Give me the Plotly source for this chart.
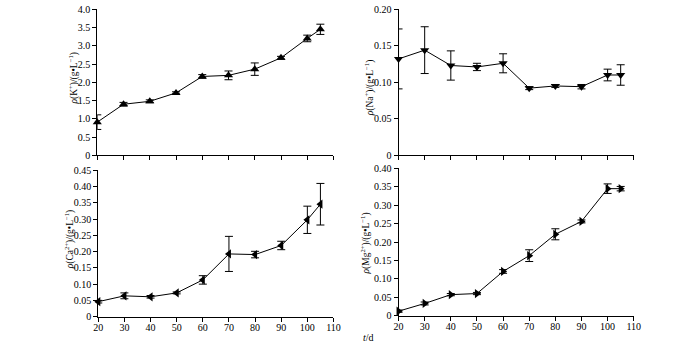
import plotly.graph_objects as go

days = [20, 30, 40, 50, 60, 70, 80, 90, 100, 105]

k_vals = [0.91, 1.40, 1.48, 1.71, 2.16, 2.19, 2.36, 2.67, 3.20, 3.45]
k_err = [0.20, 0.05, 0.04, 0.03, 0.05, 0.12, 0.17, 0.04, 0.09, 0.14]

na_vals = [0.132, 0.144, 0.123, 0.121, 0.126, 0.092, 0.095, 0.094, 0.110, 0.110]
na_err = [0.041, 0.032, 0.020, 0.005, 0.013, 0.002, 0.002, 0.003, 0.008, 0.014]

ca_vals = [0.046, 0.064, 0.061, 0.073, 0.113, 0.193, 0.191, 0.219, 0.298, 0.346]
ca_err = [0.004, 0.009, 0.004, 0.003, 0.013, 0.054, 0.010, 0.013, 0.042, 0.064]

mg_vals = [0.012, 0.033, 0.057, 0.060, 0.120, 0.163, 0.221, 0.256, 0.345, 0.345]
mg_err = [0.003, 0.004, 0.003, 0.003, 0.005, 0.016, 0.015, 0.004, 0.013, 0.006]

x_ticks = [20, 30, 40, 50, 60, 70, 80, 90, 100, 110]

k_ticks = [0, 0.5, 1.0, 1.5, 2.0, 2.5, 3.0, 3.5, 4.0]
na_ticks = [0, 0.05, 0.10, 0.15, 0.20]
ca_ticks = [0, 0.05, 0.10, 0.15, 0.20, 0.25, 0.30, 0.35, 0.40, 0.45]
mg_ticks = [0, 0.05, 0.10, 0.15, 0.20, 0.25, 0.30, 0.35, 0.40]

FONT = "Liberation Serif, Times New Roman, serif"
W, H = 700, 346


def px_x(p):
    # picture pixel -> paper fraction (calibrated)
    return ((p - 4.8) / 0.982) / W


def px_y(p):
    return 1 - ((p - 5.8) / 0.964) / H


panels = [
    dict(y=k_vals, e=k_err, sym="triangle-up", ticks=k_ticks, fmt="{:.1f}", rng=[0, 4.0],
         xd=[px_x(97), px_x(333)], yd=[px_y(155), px_y(9)], xlab=False,
         title="<i>ρ</i>(K<sup>+</sup>)/(g•L<sup>−1</sup>)", tx=73, ty=78),
    dict(y=na_vals, e=na_err, sym="triangle-down", ticks=na_ticks, fmt="{:.2f}", rng=[0, 0.20],
         xd=[px_x(398), px_x(633)], yd=[px_y(155), px_y(9)], xlab=False,
         title="<i>ρ</i>(Na<sup>+</sup>)/(g•L<sup>−1</sup>)", tx=368.5, ty=88),
    dict(y=ca_vals, e=ca_err, sym="triangle-left", ticks=ca_ticks, fmt="{:.2f}", rng=[0, 0.45],
         xd=[px_x(98), px_x(333)], yd=[px_y(316), px_y(170)], xlab=True,
         title="<i>ρ</i>(Ca<sup>2+</sup>)/(g•L<sup>−1</sup>)", tx=69.5, ty=239),
    dict(y=mg_vals, e=mg_err, sym="triangle-right", ticks=mg_ticks, fmt="{:.2f}", rng=[0, 0.40],
         xd=[px_x(398), px_x(633)], yd=[px_y(315), px_y(168)], xlab=True,
         title="<i>ρ</i>(Mg<sup>2+</sup>)/(g•L<sup>−1</sup>)", tx=365.5, ty=243),
]

fig = go.Figure()
annotations = []
for i, p in enumerate(panels):
    n = "" if i == 0 else str(i + 1)
    fig.add_trace(go.Scatter(
        x=days, y=p["y"], xaxis="x" + n, yaxis="y" + n,
        mode="lines+markers", cliponaxis=False,
        line=dict(color="black", width=1),
        marker=dict(symbol=p["sym"], size=8, color="black"),
        error_y=dict(type="data", array=p["e"], visible=True, color="black",
                     thickness=1, width=4),
        showlegend=False,
    ))
    ticktext = ["0" if v == 0 else p["fmt"].format(v) for v in p["ticks"]]
    fig.layout["xaxis" + n] = dict(
        domain=p["xd"], range=[20, 110], anchor="y" + n,
        tickvals=x_ticks, ticks="outside", ticklen=4, tickcolor="black",
        showticklabels=p["xlab"], showline=True, linecolor="black", linewidth=1,
        showgrid=False, zeroline=False, ticklabelstandoff=-3,
        tickfont=dict(family=FONT, size=10, color="black"),
    )
    fig.layout["yaxis" + n] = dict(
        domain=p["yd"], range=p["rng"], anchor="x" + n,
        tickvals=p["ticks"], ticktext=ticktext, ticks="outside", ticklen=4,
        tickcolor="black", showline=True, linecolor="black", linewidth=1,
        showgrid=False, zeroline=False,
        tickfont=dict(family=FONT, size=10, color="black"),
    )
    annotations.append(dict(
        text=p["title"], textangle=-90, xref="paper", yref="paper",
        x=px_x(p["tx"]), y=px_y(p["ty"]), showarrow=False,
        xanchor="center", yanchor="middle",
        font=dict(family=FONT, size=9.5, color="black"),
    ))

annotations.append(dict(
    text="<i>t</i>/d", xref="paper", yref="paper", x=px_x(368), y=px_y(337),
    showarrow=False, xanchor="center", yanchor="middle",
    font=dict(family=FONT, size=10, color="black"),
))

fig.update_layout(
    width=W, height=H, margin=dict(l=0, r=0, t=0, b=0),
    paper_bgcolor="white", plot_bgcolor="white",
    annotations=annotations,
    font=dict(family=FONT, color="black"),
)

fig.write_html("out.html", config={"displayModeBar": False},
               post_script="document.body.style.margin='0';")
